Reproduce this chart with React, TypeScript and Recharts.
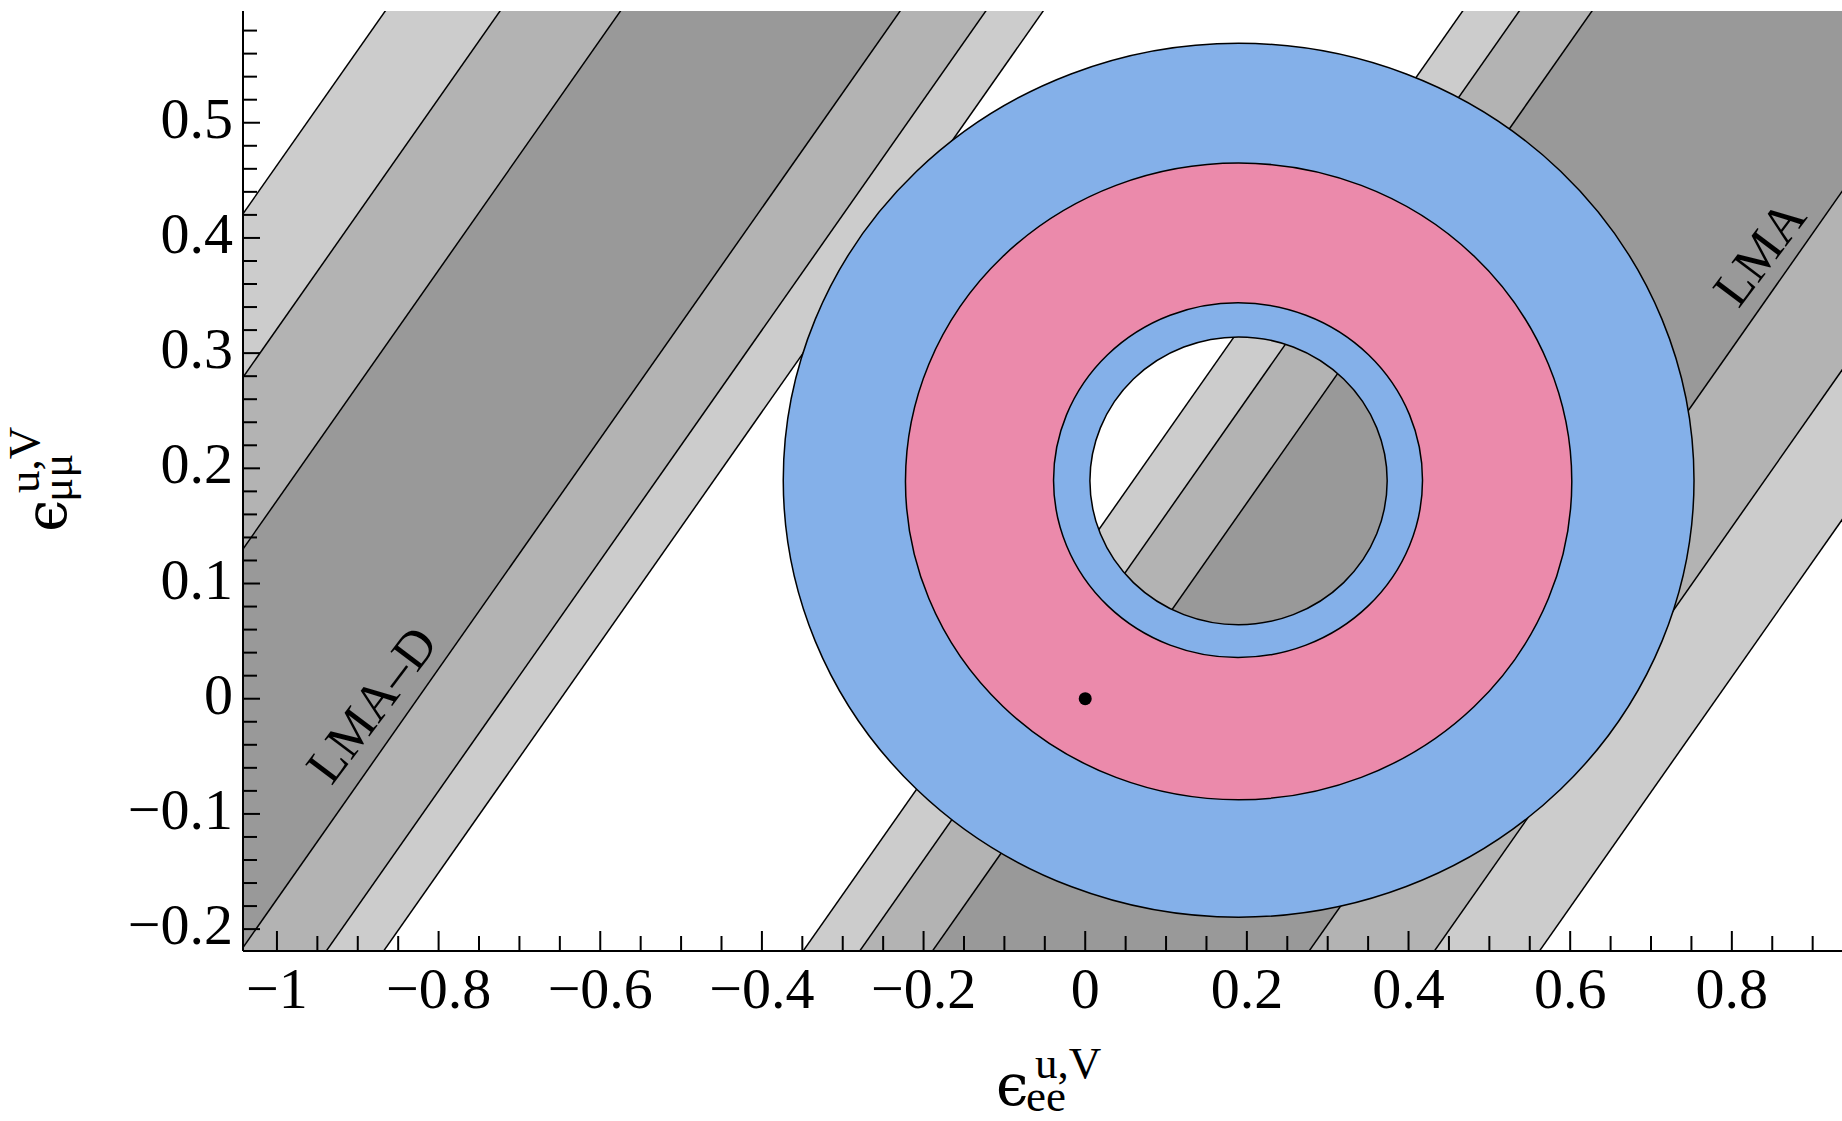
import React from "react";
import { Area, ComposedChart, Label, ReferenceArea, ReferenceDot, XAxis, YAxis } from "recharts";

// plot window (data units)
const xDomain: [number, number] = [-1.042, 0.94];
const yDomain: [number, number] = [-0.219, 0.597];

// tick marks: minor every 0.05 / 0.02, labelled every 0.2 / 0.1
const xTicks = Array.from({ length: 39 }, (_, i) => Math.round((-1 + i * 0.05) * 100) / 100);
const yTicks = Array.from({ length: 40 }, (_, i) => Math.round((-0.2 + i * 0.02) * 100) / 100);

// grey allowed bands, [lower edge, upper edge] read at the left and right end of the x range
const bandX = [-1.042, 0.94];
const lmaDLight: [number, number][] = [[-0.393, 0.421], [1.589, 2.403]];
const lmaDMid: [number, number][] = [[-0.322, 0.279], [1.66, 2.261]];
const lmaDDark: [number, number][] = [[-0.216, 0.13], [1.766, 2.112]];
const lmaLight: [number, number][] = [[-1.823, -0.912], [0.159, 1.07]];
const lmaMid: [number, number][] = [[-1.693, -0.982], [0.289, 1.0]];
const lmaDark: [number, number][] = [[-1.538, -1.072], [0.444, 0.91]];

// coloured contours, bounding boxes of the closed curves (outer blue, pink outer, pink inner, hole)
const ringX1 = [-0.3736, -0.2224, -0.0392, 0.0058];
const ringX2 = [0.7532, 0.602, 0.4173, 0.3736];
const ringY1 = [-0.1897, -0.0877, 0.0357, 0.0642];
const ringY2 = [0.569, 0.465, 0.3437, 0.3141];
const ringFill = ["#84b0e9", "#eb8aab", "#84b0e9", "none"];

const bestFit = { x: 0, y: 0 };

const regionLabels = [
  { text: "LMA\u2013D", x: -0.883, y: -0.005 },
  { text: "LMA", x: 0.834, y: 0.387 },
];

const bandRows = bandX.map((x, i) => ({
  x,
  lmaDLight: lmaDLight[i],
  lmaDMid: lmaDMid[i],
  lmaDDark: lmaDDark[i],
  lmaLight: lmaLight[i],
  lmaMid: lmaMid[i],
  lmaDark: lmaDark[i],
}));

const FONT = "'Liberation Serif', 'DejaVu Serif', serif";
const GREEK = "'DejaVu Serif', 'Liberation Serif', serif";

const isMultiple = (v: number, step: number) => Math.abs(v / step - Math.round(v / step)) < 1e-6;
const fmt = (v: number) => {
  const a = Math.round(Math.abs(v) * 100) / 100;
  return (v < -1e-9 ? "\u2212" : "") + String(a);
};

function BottomTick(props: any) {
  const { x, y, payload } = props;
  const major = isMultiple(payload.value, 0.2);
  return (
    <g>
      <line x1={x} x2={x} y1={y} y2={y - (major ? 20 : 15)} stroke="#000" strokeWidth={2} />
      {major && (
        <text x={x} y={y + 57} textAnchor="middle" fontFamily={FONT} fontSize={58} fill="#000">
          {fmt(payload.value)}
        </text>
      )}
    </g>
  );
}

function TopTick(props: any) {
  const { x, y, payload } = props;
  const major = isMultiple(payload.value, 0.2);
  return <line x1={x} x2={x} y1={y} y2={y + (major ? 20 : 15)} stroke="#000" strokeWidth={2} />;
}

function LeftTick(props: any) {
  const { x, y, payload } = props;
  const major = isMultiple(payload.value, 0.1);
  return (
    <g>
      <line x1={x} x2={x + (major ? 17 : 14)} y1={y} y2={y} stroke="#000" strokeWidth={2} />
      {major && (
        <text x={x - 10} y={y + 15} textAnchor="end" fontFamily={FONT} fontSize={58} fill="#000">
          {fmt(payload.value)}
        </text>
      )}
    </g>
  );
}

function RightTick(props: any) {
  const { x, y, payload } = props;
  const major = isMultiple(payload.value, 0.1);
  return <line x1={x} x2={x - (major ? 17 : 14)} y1={y} y2={y} stroke="#000" strokeWidth={2} />;
}

// epsilon with stacked superscript "u,V" and a subscript
function AxisTitle({ cx, cy, rotate, sub }: { cx: number; cy: number; rotate: number; sub: string }) {
  return (
    <g transform={`translate(${cx} ${cy}) rotate(${rotate})`} fill="#000">
      <text x={-48} y={20} fontFamily={GREEK} fontSize={58}>
        {"\u03f5"}
      </text>
      <text x={-9} y={-7} fontFamily={FONT} fontSize={45}>
        u,V
      </text>
      <text x={-18} y={26} fontFamily={FONT} fontSize={45}>
        {sub}
      </text>
    </g>
  );
}

function ringShape(i: number) {
  return (p: any) => {
    const cx = p.x + p.width / 2;
    const cy = p.y + p.height / 2;
    const rx = Math.abs(p.width) / 2;
    const ry = Math.abs(p.height) / 2;
    if (ringFill[i] === "none") {
      return (
        <g>
          <defs>
            <mask id="ring-hole" maskUnits="userSpaceOnUse" x={0} y={0} width={4000} height={4000}>
              <rect x={0} y={0} width={4000} height={4000} fill="#fff" />
              <ellipse cx={cx} cy={cy} rx={rx} ry={ry} fill="#000" />
            </mask>
          </defs>
          <ellipse cx={cx} cy={cy} rx={rx} ry={ry} fill="none" stroke="#000" strokeWidth={1.5} />
        </g>
      );
    }
    return (
      <ellipse
        cx={cx}
        cy={cy}
        rx={rx}
        ry={ry}
        fill={ringFill[i]}
        stroke="#000"
        strokeWidth={1.5}
        mask="url(#ring-hole)"
      />
    );
  };
}

const bands = [
  { key: "lmaDLight", fill: "#cccccc" },
  { key: "lmaDMid", fill: "#b3b3b3" },
  { key: "lmaDDark", fill: "#999999" },
  { key: "lmaLight", fill: "#cccccc" },
  { key: "lmaMid", fill: "#b3b3b3" },
  { key: "lmaDark", fill: "#999999" },
];

export default function App() {
  return (
    <div
      style={{ position: "fixed", left: 0, top: 0, width: 1842, height: 1121, overflow: "hidden", background: "#fff" }}
    >
      <ComposedChart width={1850} height={1121} data={bandRows} margin={{ top: 11, right: 5, bottom: 0, left: 0 }}>
        {bands.map((b) => (
          <Area
            key={b.key}
            dataKey={b.key}
            type="linear"
            fill={b.fill}
            fillOpacity={1}
            stroke="#000"
            strokeWidth={1.5}
            dot={false}
            activeDot={false}
            isAnimationActive={false}
            zIndex={100}
          />
        ))}
        {ringX1.map((x1, i) => (
          <ReferenceArea
            key={`ring${i}`}
            x1={x1}
            x2={ringX2[i]}
            y1={ringY1[i]}
            y2={ringY2[i]}
            ifOverflow="visible"
            shape={ringShape(i)}
            zIndex={150}
          />
        ))}
        <ReferenceDot x={bestFit.x} y={bestFit.y} r={6.5} fill="#000" stroke="none" zIndex={200} />
        {regionLabels.map((l) => (
          <ReferenceDot
            key={l.text}
            x={l.x}
            y={l.y}
            r={1}
            zIndex={200}
            shape={(p: any) => (
              <text
                x={p.cx}
                y={p.cy}
                transform={`rotate(-53 ${p.cx} ${p.cy})`}
                textAnchor="middle"
                dominantBaseline="central"
                fontFamily={FONT}
                fontSize={52}
                fill="#000"
              >
                {l.text}
              </text>
            )}
          />
        ))}
        <XAxis
          type="number"
          dataKey="x"
          domain={xDomain}
          allowDataOverflow
          ticks={xTicks}
          interval={0}
          tickSize={0}
          tickMargin={0}
          tickLine={false}
          tick={<BottomTick />}
          axisLine={{ stroke: "#000", strokeWidth: 2 }}
          height={170}
        >
          <Label
            content={(p: any) => (
              <AxisTitle cx={p.viewBox.x + p.viewBox.width / 2} cy={1085} rotate={0} sub="ee" />
            )}
          />
        </XAxis>
        <XAxis
          xAxisId="top"
          orientation="top"
          type="number"
          domain={xDomain}
          allowDataOverflow
          ticks={xTicks}
          interval={0}
          tickSize={0}
          tickMargin={0}
          tickLine={false}
          tick={<TopTick />}
          axisLine={{ stroke: "#000", strokeWidth: 2 }}
          height={0}
        />
        <YAxis
          type="number"
          domain={yDomain}
          allowDataOverflow
          ticks={yTicks}
          interval={0}
          tickSize={0}
          tickMargin={0}
          tickLine={false}
          tick={<LeftTick />}
          axisLine={{ stroke: "#000", strokeWidth: 2 }}
          width={243}
        >
          <Label
            content={(p: any) => (
              <AxisTitle cx={46} cy={p.viewBox.y + 473} rotate={-90} sub={"\u03bc\u03bc"} />
            )}
          />
        </YAxis>
        <YAxis
          yAxisId="right"
          orientation="right"
          type="number"
          domain={yDomain}
          allowDataOverflow
          ticks={yTicks}
          interval={0}
          tickSize={0}
          tickMargin={0}
          tickLine={false}
          tick={<RightTick />}
          axisLine={{ stroke: "#000", strokeWidth: 2 }}
          width={0}
        />
      </ComposedChart>
    </div>
  );
}
